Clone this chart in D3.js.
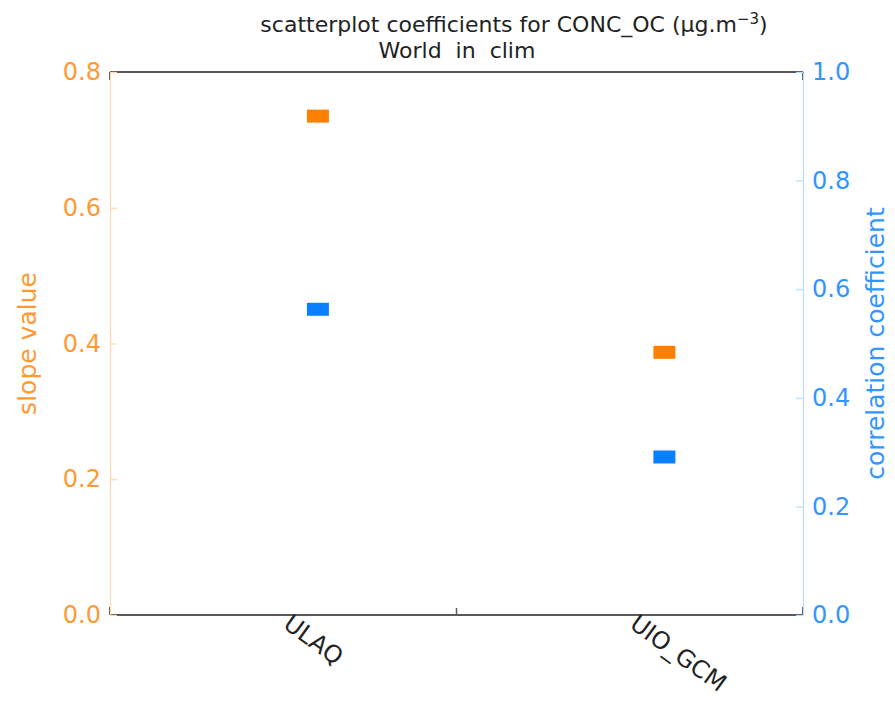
<!DOCTYPE html>
<html>
<head>
<meta charset="utf-8">
<script src="https://cdn.jsdelivr.net/npm/d3@7/dist/d3.min.js"></script>
<style>
  html, body { margin: 0; padding: 0; background: #ffffff; }
  svg { display: block; }
  text { font-family: "DejaVu Sans", Verdana, sans-serif; }
</style>
</head>
<body>
<svg id="chart" width="895" height="701"></svg>
<script>
// Models compared on the x axis
const categories = ["ULAQ", "UIO_GCM"];
// Slope of the scatterplot regression (left axis)
const slopeValues = [0.735, 0.387];
// Correlation coefficient (right axis)
const corrValues = [0.563, 0.291];
// Tick labels for both vertical axes
const slopeTicks = [0.0, 0.2, 0.4, 0.6, 0.8];
const corrTicks = [0.0, 0.2, 0.4, 0.6, 0.8, 1.0];

const orange = "#ff8000";
const orangeText = "#ff9a33";
const orangeAxis = "#ffd6ad";
const blue = "#0a7fff";
const blueText = "#3395ff";
const blueAxis = "#b8dbff";
const frame = "#5a5a5a";
const font = "DejaVu Sans, Verdana, sans-serif";

const svg = d3.select("#chart");
const plotL = 110, plotR = 803, plotT = 72, plotB = 615;
const midY = (plotT + plotB) / 2;

const x = d3.scaleLinear().domain([-0.6, 1.4]).range([plotL, plotR]);
const yL = d3.scaleLinear().domain([0, 0.8]).range([plotB, plotT]);
const yR = d3.scaleLinear().domain([0, 1.0]).range([plotB, plotT]);

// Dark frame: top and bottom edges with short corner stubs
const fg = svg.append("g").attr("stroke", frame).attr("stroke-width", 2).attr("fill", "none");
fg.append("line").attr("x1", plotL).attr("x2", plotR).attr("y1", plotT).attr("y2", plotT);
fg.append("line").attr("x1", plotL).attr("x2", plotR).attr("y1", plotB).attr("y2", plotB);
[[plotL, plotT, 1], [plotR, plotT, 1], [plotL, plotB, -1], [plotR, plotB, -1]].forEach(([cx, cy, d]) => {
  fg.append("line").attr("x1", cx).attr("x2", cx).attr("y1", cy).attr("y2", cy + d * 8);
});
// Middle tick on the category axis
fg.append("line").attr("x1", x(0.4)).attr("x2", x(0.4)).attr("y1", plotB).attr("y2", plotB - 7)
  .attr("stroke-width", 1.5);

// Left axis (slope)
const gL = svg.append("g").attr("transform", `translate(${plotL},0)`);
gL.call(d3.axisLeft(yL).tickValues(d3.range(0, 0.8001, 0.05)).tickSizeInner(-4).tickSizeOuter(0).tickFormat(""));
gL.call(d3.axisLeft(yL).tickValues(slopeTicks).tickSizeInner(-7).tickSizeOuter(0).tickPadding(9)
  .tickFormat(d3.format(".1f")));
gL.selectAll("path, line").attr("stroke", orangeAxis).attr("stroke-width", 1.2);
gL.selectAll("text").attr("fill", orangeText).attr("font-size", 24).attr("font-family", font);

// Right axis (correlation)
const gR = svg.append("g").attr("transform", `translate(${plotR},0)`);
gR.call(d3.axisRight(yR).tickValues(d3.range(0, 1.0001, 0.05)).tickSizeInner(-4).tickSizeOuter(0).tickFormat(""));
gR.call(d3.axisRight(yR).tickValues(corrTicks).tickSizeInner(-7).tickSizeOuter(0).tickPadding(9)
  .tickFormat(d3.format(".1f")));
gR.selectAll("path, line").attr("stroke", blueAxis).attr("stroke-width", 1.2);
gR.selectAll("text").attr("fill", blueText).attr("font-size", 24).attr("font-family", font);

// Axis titles, both reading bottom to top
svg.append("text")
  .attr("transform", `translate(36,${midY}) rotate(-90)`)
  .attr("text-anchor", "middle").attr("fill", orangeText).attr("font-size", 25)
  .text("slope value");
svg.append("text")
  .attr("transform", `translate(884,${midY}) rotate(-90)`)
  .attr("text-anchor", "middle").attr("fill", blueText).attr("font-size", 25)
  .text("correlation coefficient");

// Title
const t1 = svg.append("text").attr("x", 514).attr("y", 32).attr("text-anchor", "middle")
  .attr("font-size", 22).attr("fill", "#222");
t1.append("tspan").text("scatterplot coefficients for CONC_OC (μg.m");
t1.append("tspan").attr("dy", -8).attr("font-size", 15).text("−3");
t1.append("tspan").attr("dy", 8).text(")");
svg.append("text").attr("x", 457).attr("y", 58).attr("text-anchor", "middle")
  .attr("font-size", 22).attr("word-spacing", 7).attr("fill", "#222").text("World in clim");

// Category labels, slanted
svg.append("g").selectAll("text").data(categories).join("text")
  .attr("transform", (d, i) => `translate(${x(i) - 36},627) rotate(36)`)
  .attr("font-size", 24).attr("fill", "#222")
  .text(d => d);

// Markers
const mw = 22, mh = 13;
svg.append("g").selectAll("rect").data(slopeValues).join("rect")
  .attr("x", (d, i) => x(i) - mw / 2).attr("y", d => yL(d) - mh / 2)
  .attr("width", mw).attr("height", mh).attr("fill", orange);
svg.append("g").selectAll("rect").data(corrValues).join("rect")
  .attr("x", (d, i) => x(i) - mw / 2).attr("y", d => yR(d) - mh / 2)
  .attr("width", mw).attr("height", mh).attr("fill", blue);
</script>
</body>
</html>
